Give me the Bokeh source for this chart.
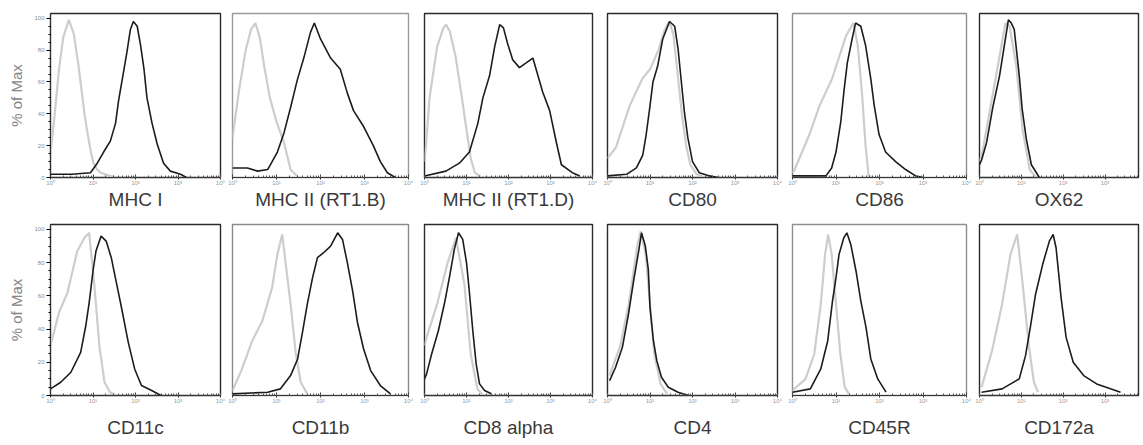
from bokeh.plotting import figure
from bokeh.layouts import row, column
from bokeh.models import Range1d, FixedTicker, LogTicker
from bokeh.embed import file_html
from bokeh.resources import INLINE

# ---------------- data (log10 fluorescence, % of max) ----------------
LABELS = ["MHC I", "MHC II (RT1.B)", "MHC II (RT1.D)", "CD80", "CD86", "OX62",
          "CD11c", "CD11b", "CD8 alpha", "CD4", "CD45R", "CD172a"]

MHC1_STAIN_LOG = [0, 0.5, 0.94, 1.1, 1.25, 1.41, 1.53, 1.6, 1.73, 1.8, 1.88, 1.95, 2.04, 2.12, 2.2, 2.27, 2.39, 2.51, 2.66, 2.82, 3.06, 3.2]
MHC1_STAIN_PCT = [2, 2, 3, 9, 16, 23, 34, 48, 68, 79, 93, 98, 95, 83, 68, 50, 34, 21, 9, 4, 2, 0]
MHC1_ISO_LOG = [0, 0.1, 0.2, 0.3, 0.43, 0.55, 0.65, 0.72, 0.8, 0.87, 0.95, 1.01, 1.1, 1.18, 1.4, 1.6]
MHC1_ISO_PCT = [15, 40, 68, 88, 99, 90, 72, 57, 40, 28, 16, 9, 5, 3, 1, 0]

RT1B_STAIN_LOG = [0, 0.34, 0.57, 0.8, 1.02, 1.17, 1.32, 1.47, 1.62, 1.77, 1.86, 2.0, 2.23, 2.45, 2.61, 2.75, 2.98, 3.2, 3.36, 3.52, 3.7]
RT1B_STAIN_PCT = [6, 6, 4, 5, 16, 28, 44, 61, 75, 91, 97, 87, 75, 68, 53, 42, 32, 20, 10, 3, 0]
RT1B_ISO_LOG = [0, 0.15, 0.3, 0.42, 0.52, 0.62, 0.72, 0.85, 1.0, 1.17, 1.32, 1.5]
RT1B_ISO_PCT = [25, 55, 80, 93, 97, 88, 70, 50, 35, 22, 5, 0]

RT1D_STAIN_LOG = [0, 0.51, 0.83, 1.07, 1.27, 1.39, 1.55, 1.67, 1.79, 1.88, 1.98, 2.1, 2.26, 2.42, 2.58, 2.68, 2.81, 2.98, 3.14, 3.26, 3.52, 3.7]
RT1D_STAIN_PCT = [1, 4, 9, 16, 34, 50, 64, 82, 96, 94, 84, 74, 69, 72, 75, 66, 54, 42, 22, 8, 3, 1]
RT1D_ISO_LOG = [0, 0.05, 0.12, 0.3, 0.45, 0.51, 0.6, 0.74, 0.88, 1.0, 1.1, 1.2, 1.35]
RT1D_ISO_PCT = [10, 25, 50, 82, 94, 96, 92, 76, 52, 30, 12, 3, 0]

CD80_STAIN_LOG = [0, 0.45, 0.68, 0.83, 0.91, 0.99, 1.07, 1.18, 1.3, 1.46, 1.58, 1.66, 1.73, 1.81, 1.89, 2.0, 2.16, 2.4, 2.6]
CD80_STAIN_PCT = [1, 2, 6, 14, 27, 43, 60, 70, 87, 98, 95, 81, 62, 41, 25, 10, 3, 1, 0]
CD80_ISO_LOG = [0, 0.2, 0.52, 0.82, 1.0, 1.2, 1.35, 1.45, 1.55, 1.65, 1.75, 1.85, 1.95, 2.1, 2.3]
CD80_ISO_PCT = [12, 19, 45, 62, 68, 80, 93, 98, 90, 65, 40, 20, 8, 2, 0]

CD86_STAIN_LOG = [0, 0.77, 0.9, 1.0, 1.11, 1.19, 1.26, 1.37, 1.45, 1.57, 1.68, 1.8, 1.88, 1.99, 2.14, 2.37, 2.6, 2.83, 3.0]
CD86_STAIN_PCT = [1, 1, 6, 16, 35, 56, 72, 87, 97, 95, 83, 62, 45, 27, 16, 10, 5, 1, 0]
CD86_ISO_LOG = [0, 0.05, 0.39, 0.62, 0.91, 1.23, 1.4, 1.5, 1.6, 1.68, 1.75, 1.85]
CD86_ISO_PCT = [3, 5, 27, 45, 62, 89, 97, 83, 52, 20, 1, 0]

OX62_STAIN_LOG = [0, 0.05, 0.17, 0.31, 0.48, 0.6, 0.69, 0.76, 0.83, 0.95, 1.02, 1.12, 1.24, 1.43]
OX62_STAIN_PCT = [8, 11, 22, 43, 64, 84, 99, 97, 93, 64, 43, 24, 8, 0]
OX62_ISO_LOG = [0, 0.07, 0.33, 0.62, 0.72, 0.88, 1.03, 1.2, 1.35]
OX62_ISO_PCT = [10, 16, 54, 97, 95, 70, 30, 5, 0]

CD11C_STAIN_LOG = [0, 0.24, 0.48, 0.71, 0.83, 0.91, 1.0, 1.07, 1.19, 1.31, 1.43, 1.55, 1.67, 1.83, 1.98, 2.14, 2.38, 2.6]
CD11C_STAIN_PCT = [4, 8, 14, 26, 42, 56, 75, 87, 96, 93, 83, 68, 53, 32, 16, 6, 3, 0]
CD11C_ISO_LOG = [0, 0.1, 0.2, 0.4, 0.63, 0.8, 0.91, 1.03, 1.15, 1.27, 1.4, 1.55]
CD11C_ISO_PCT = [30, 40, 50, 62, 87, 95, 98, 67, 30, 8, 2, 0]

CD11B_STAIN_LOG = [0, 0.8, 1.09, 1.32, 1.48, 1.59, 1.7, 1.82, 1.93, 2.07, 2.23, 2.39, 2.5, 2.61, 2.73, 2.84, 2.98, 3.14, 3.36, 3.59]
CD11B_STAIN_PCT = [1, 2, 4, 12, 22, 38, 55, 71, 83, 86, 90, 98, 94, 80, 63, 44, 28, 15, 6, 1]
CD11B_ISO_LOG = [0, 0.2, 0.45, 0.68, 0.9, 1.02, 1.13, 1.32, 1.44, 1.55, 1.7]
CD11B_ISO_PCT = [3, 15, 33, 45, 65, 85, 97, 55, 25, 8, 1]

CD8_STAIN_LOG = [0, 0.05, 0.17, 0.33, 0.48, 0.6, 0.71, 0.81, 0.91, 1.0, 1.07, 1.15, 1.23, 1.31, 1.43, 1.59]
CD8_STAIN_PCT = [10, 13, 25, 39, 56, 72, 88, 98, 94, 80, 62, 39, 19, 7, 3, 1]
CD8_ISO_LOG = [0, 0.05, 0.3, 0.55, 0.75, 0.95, 1.1, 1.26, 1.4]
CD8_ISO_PCT = [30, 35, 55, 80, 95, 67, 25, 4, 0]

CD4_STAIN_LOG = [0.05, 0.19, 0.35, 0.5, 0.62, 0.74, 0.8, 0.89, 0.96, 1.0, 1.08, 1.16, 1.27, 1.43, 1.66, 1.9]
CD4_STAIN_PCT = [9, 17, 29, 50, 70, 88, 98, 90, 76, 53, 33, 21, 11, 5, 2, 0]
CD4_ISO_LOG = [0.05, 0.3, 0.5, 0.7, 0.78, 0.9, 1.0, 1.1, 1.25, 1.4]
CD4_ISO_PCT = [12, 30, 55, 90, 99, 85, 55, 25, 7, 1]

CD45R_STAIN_LOG = [0, 0.41, 0.65, 0.81, 0.92, 1.0, 1.07, 1.18, 1.25, 1.34, 1.46, 1.57, 1.69, 1.8, 1.96, 2.15]
CD45R_STAIN_PCT = [2, 4, 16, 33, 57, 71, 85, 95, 98, 91, 75, 57, 41, 22, 10, 2]
CD45R_ISO_LOG = [0, 0.3, 0.5, 0.65, 0.75, 0.82, 0.9, 1.0, 1.1, 1.2, 1.3]
CD45R_ISO_PCT = [3, 10, 25, 55, 85, 97, 85, 55, 25, 5, 1]

CD172A_STAIN_LOG = [0.05, 0.54, 0.95, 1.1, 1.22, 1.34, 1.51, 1.67, 1.76, 1.83, 1.95, 2.07, 2.24, 2.49, 2.8, 3.13, 3.37]
CD172A_STAIN_PCT = [2, 4, 10, 24, 42, 61, 79, 93, 97, 89, 59, 35, 20, 12, 7, 4, 2]
CD172A_ISO_LOG = [0.05, 0.3, 0.54, 0.74, 0.9, 1.02, 1.18, 1.3, 1.4]
CD172A_ISO_PCT = [5, 27, 55, 85, 97, 70, 30, 8, 2]

Y_TICKS = [0, 20, 40, 60, 80, 100]
X_TICK_LABELS = {1: "10⁰", 10: "10¹", 100: "10²", 1000: "10³", 10000: "10⁴"}

SERIES = [
    (MHC1_STAIN_LOG, MHC1_STAIN_PCT, MHC1_ISO_LOG, MHC1_ISO_PCT),
    (RT1B_STAIN_LOG, RT1B_STAIN_PCT, RT1B_ISO_LOG, RT1B_ISO_PCT),
    (RT1D_STAIN_LOG, RT1D_STAIN_PCT, RT1D_ISO_LOG, RT1D_ISO_PCT),
    (CD80_STAIN_LOG, CD80_STAIN_PCT, CD80_ISO_LOG, CD80_ISO_PCT),
    (CD86_STAIN_LOG, CD86_STAIN_PCT, CD86_ISO_LOG, CD86_ISO_PCT),
    (OX62_STAIN_LOG, OX62_STAIN_PCT, OX62_ISO_LOG, OX62_ISO_PCT),
    (CD11C_STAIN_LOG, CD11C_STAIN_PCT, CD11C_ISO_LOG, CD11C_ISO_PCT),
    (CD11B_STAIN_LOG, CD11B_STAIN_PCT, CD11B_ISO_LOG, CD11B_ISO_PCT),
    (CD8_STAIN_LOG, CD8_STAIN_PCT, CD8_ISO_LOG, CD8_ISO_PCT),
    (CD4_STAIN_LOG, CD4_STAIN_PCT, CD4_ISO_LOG, CD4_ISO_PCT),
    (CD45R_STAIN_LOG, CD45R_STAIN_PCT, CD45R_ISO_LOG, CD45R_ISO_PCT),
    (CD172A_STAIN_LOG, CD172A_STAIN_PCT, CD172A_ISO_LOG, CD172A_ISO_PCT),
]

# ---------------- layout / style ----------------
COL_LEFT_BORDER = [50, 7, 11, 10, 10, 8]
COL_FRAME_W = [170, 176, 168, 170, 174, 159]
COL_XMAX_EXP = [4, 4, 4, 4, 4, 3.8]
RIGHT_BORDER = 5
ROW_H = [212, 233]
ROW_TOP = [13, 12]
ROW_BOTTOM = [31, 50]
ROW_LABEL_STANDOFF = [0, 10]
OUTLINE_COLORS = ["#2a2a2a", "#9a9a9a", "#2a2a2a", "#2a2a2a", "#8f8f8f", "#2a2a2a",
                  "#2a2a2a", "#8a8a8a", "#2a2a2a", "#2a2a2a", "#8f8f8f", "#2a2a2a"]
FONT = "Liberation Sans"


def make_panel(idx):
    r, c = divmod(idx, 6)
    stain_log, stain_pct, iso_log, iso_pct = SERIES[idx]
    width = COL_LEFT_BORDER[c] + COL_FRAME_W[c] + RIGHT_BORDER
    p = figure(width=width, height=ROW_H[r], x_axis_type="log",
               x_range=Range1d(1, 10 ** COL_XMAX_EXP[c]), y_range=Range1d(0, 103),
               output_backend="svg", toolbar_location=None,
               min_border_left=COL_LEFT_BORDER[c], min_border_right=RIGHT_BORDER,
               min_border_top=ROW_TOP[r], min_border_bottom=ROW_BOTTOM[r])
    p.grid.visible = False
    p.outline_line_color = OUTLINE_COLORS[idx]
    p.outline_line_width = 1.4
    p.background_fill_color = "white"
    p.border_fill_color = "white"

    p.line([10 ** e for e in iso_log], iso_pct, line_color="#cdcdcd", line_width=2.2)
    p.line([10 ** e for e in stain_log], stain_pct, line_color="#1c1c1c", line_width=1.6)

    xa = p.xaxis[0]
    xa.ticker = LogTicker(num_minor_ticks=10)
    xa.major_label_overrides = X_TICK_LABELS
    xa.major_label_text_font_size = "6px"
    xa.major_label_text_color = "#9a9a9a"
    xa.major_label_text_font = FONT
    xa.major_label_standoff = 0
    xa.major_tick_in = 3
    xa.major_tick_out = 2
    xa.minor_tick_in = 2
    xa.minor_tick_out = 0
    xa.axis_line_color = "#333333"
    xa.major_tick_line_color = "#333333"
    xa.minor_tick_line_color = "#555555"
    xa.axis_label = LABELS[idx]
    xa.axis_label_text_font = FONT
    xa.axis_label_text_font_size = "19px"
    xa.axis_label_text_font_style = "normal"
    xa.axis_label_text_color = "#3a3a3a"
    xa.axis_label_standoff = ROW_LABEL_STANDOFF[r]

    ya = p.yaxis[0]
    if c == 0:
        ya.ticker = FixedTicker(ticks=Y_TICKS, minor_ticks=list(range(0, 101, 5)))
        ya.major_label_text_font_size = "6px"
        ya.major_label_text_color = "#8a8a8a"
        ya.major_label_text_font = FONT
        ya.major_label_standoff = 2
        ya.major_tick_in = 0
        ya.major_tick_out = 4
        ya.minor_tick_in = 0
        ya.minor_tick_out = 2
        ya.axis_line_color = "#333333"
        ya.axis_label = "% of Max"
        ya.axis_label_text_font = FONT
        ya.axis_label_text_font_size = "15px"
        ya.axis_label_text_font_style = "normal"
        ya.axis_label_text_color = "#858585"
        ya.axis_label_standoff = 6
    else:
        ya.visible = False
    return p


panels = [make_panel(i) for i in range(12)]
layout = column(row(*panels[:6]), row(*panels[6:]))

open("out.html", "w").write(file_html(layout, INLINE))
